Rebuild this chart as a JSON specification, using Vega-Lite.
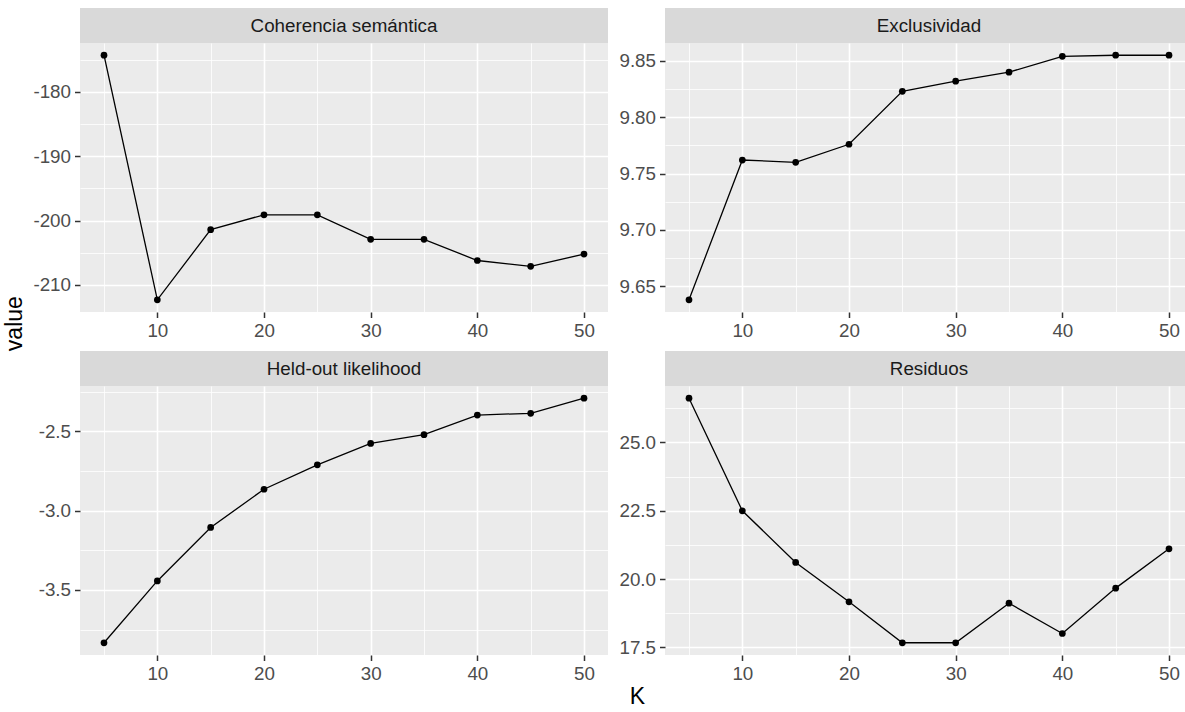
{
  "$schema": "https://vega.github.io/schema/vega-lite/v6.json",
  "background": "white",
  "padding": {"left": 3, "top": 8, "right": 0, "bottom": 2},
  "autosize": {"type": "pad"},
  "config": {
    "font": "Liberation Sans",
    "view": {"fill": "#EBEBEB", "stroke": null},
    "axis": {
      "domain": false,
      "grid": true,
      "gridColor": "#FFFFFF",
      "tickColor": "#333333",
      "tickSize": 5.5,
      "tickWidth": 1.5,
      "labelColor": "#4D4D4D",
      "labelFontSize": 18.8,
      "labelPadding": 4,
      "labelOverlap": false,
      "labelFlush": false,
      "labelBound": false,
      "title": null
    },
    "title": {"font": "Liberation Sans", "fontWeight": "normal", "fontSize": 23, "color": "#000000"}
  },
  "data": {
    "values": [
      {"metric": "Coherencia semántica", "K": 5, "value": -174.3},
      {"metric": "Coherencia semántica", "K": 10, "value": -212.3},
      {"metric": "Coherencia semántica", "K": 15, "value": -201.4},
      {"metric": "Coherencia semántica", "K": 20, "value": -199.1},
      {"metric": "Coherencia semántica", "K": 25, "value": -199.1},
      {"metric": "Coherencia semántica", "K": 30, "value": -202.9},
      {"metric": "Coherencia semántica", "K": 35, "value": -202.9},
      {"metric": "Coherencia semántica", "K": 40, "value": -206.2},
      {"metric": "Coherencia semántica", "K": 45, "value": -207.1},
      {"metric": "Coherencia semántica", "K": 50, "value": -205.2},
      {"metric": "Exclusividad", "K": 5, "value": 9.638},
      {"metric": "Exclusividad", "K": 10, "value": 9.762},
      {"metric": "Exclusividad", "K": 15, "value": 9.760},
      {"metric": "Exclusividad", "K": 20, "value": 9.776},
      {"metric": "Exclusividad", "K": 25, "value": 9.823},
      {"metric": "Exclusividad", "K": 30, "value": 9.832},
      {"metric": "Exclusividad", "K": 35, "value": 9.840},
      {"metric": "Exclusividad", "K": 40, "value": 9.854},
      {"metric": "Exclusividad", "K": 45, "value": 9.855},
      {"metric": "Exclusividad", "K": 50, "value": 9.855},
      {"metric": "Held-out likelihood", "K": 5, "value": -3.833},
      {"metric": "Held-out likelihood", "K": 10, "value": -3.443},
      {"metric": "Held-out likelihood", "K": 15, "value": -3.106},
      {"metric": "Held-out likelihood", "K": 20, "value": -2.865},
      {"metric": "Held-out likelihood", "K": 25, "value": -2.711},
      {"metric": "Held-out likelihood", "K": 30, "value": -2.576},
      {"metric": "Held-out likelihood", "K": 35, "value": -2.521},
      {"metric": "Held-out likelihood", "K": 40, "value": -2.397},
      {"metric": "Held-out likelihood", "K": 45, "value": -2.386},
      {"metric": "Held-out likelihood", "K": 50, "value": -2.291},
      {"metric": "Residuos", "K": 5, "value": 26.62},
      {"metric": "Residuos", "K": 10, "value": 22.50},
      {"metric": "Residuos", "K": 15, "value": 20.61},
      {"metric": "Residuos", "K": 20, "value": 19.17},
      {"metric": "Residuos", "K": 25, "value": 17.67},
      {"metric": "Residuos", "K": 30, "value": 17.67},
      {"metric": "Residuos", "K": 35, "value": 19.12},
      {"metric": "Residuos", "K": 40, "value": 18.01},
      {"metric": "Residuos", "K": 45, "value": 19.67},
      {"metric": "Residuos", "K": 50, "value": 21.11}
    ]
  },
  "title": {"text": "K", "orient": "bottom", "anchor": "middle", "offset": 3, "dx": 39},
  "vconcat": [
    {
      "title": {"text": "value", "orient": "left", "anchor": "middle", "offset": 6, "dx": 22},
      "spacing": 10,
      "vconcat": [
        {
          "columns": 2,
          "spacing": {"column": 57, "row": 0},
          "bounds": "flush",
          "concat": [
            {
              "width": 528, "height": 35,
              "view": {"fill": "#D9D9D9", "stroke": null},
              "transform": [
                {"filter": "datum.metric === 'Coherencia semántica'"},
                {"aggregate": [{"op": "count", "as": "n"}], "groupby": ["metric"]}
              ],
              "mark": {"type": "text", "fontSize": 18.8, "color": "#1A1A1A", "align": "center", "baseline": "middle"},
              "encoding": {"text": {"field": "metric", "type": "nominal"}}
            },
            {
              "width": 528, "height": 35,
              "view": {"fill": "#D9D9D9", "stroke": null},
              "transform": [
                {"filter": "datum.metric === 'Exclusividad'"},
                {"aggregate": [{"op": "count", "as": "n"}], "groupby": ["metric"]}
              ],
              "mark": {"type": "text", "fontSize": 18.8, "color": "#1A1A1A", "align": "center", "baseline": "middle"},
              "encoding": {"text": {"field": "metric", "type": "nominal"}}
            },
            {
              "width": 528, "height": 269,
              "transform": [{"filter": "datum.metric === 'Coherencia semántica'"}],
              "encoding": {
                "x": {"field": "K", "type": "quantitative",
                  "scale": {"domain": [2.75, 52.25], "nice": false, "zero": false},
                  "axis": {"values": [5, 10, 15, 20, 25, 30, 35, 40, 45, 50],
                    "labelExpr": "datum.value % 10 === 0 ? datum.label : ''",
                    "tickOpacity": {"condition": {"test": "datum.value % 10 === 0", "value": 1}, "value": 0},
                    "gridWidth": {"condition": {"test": "datum.value % 10 === 0", "value": 1.6}, "value": 0.8}}},
                "y": {"field": "value", "type": "quantitative",
                  "scale": {"domain": [-214.2, -172.4], "nice": false, "zero": false},
                  "axis": {"values": [-210, -205, -200, -195, -190, -185, -180, -175],
                    "labelExpr": "indexof([-210, -200, -190, -180], datum.value) >= 0 ? '' + datum.value : ''",
                    "tickOpacity": {"condition": {"test": "indexof([-210, -200, -190, -180], datum.value) >= 0", "value": 1}, "value": 0},
                    "gridWidth": {"condition": {"test": "indexof([-210, -200, -190, -180], datum.value) >= 0", "value": 1.6}, "value": 0.8}}}
              },
              "layer": [
                {"mark": {"type": "line", "color": "#000000", "strokeWidth": 1.3}},
                {"mark": {"type": "circle", "color": "#000000", "size": 45, "opacity": 1}}
              ]
            },
            {
              "width": 528, "height": 269,
              "transform": [{"filter": "datum.metric === 'Exclusividad'"}],
              "encoding": {
                "x": {"field": "K", "type": "quantitative",
                  "scale": {"domain": [2.75, 52.25], "nice": false, "zero": false},
                  "axis": {"values": [5, 10, 15, 20, 25, 30, 35, 40, 45, 50],
                    "labelExpr": "datum.value % 10 === 0 ? datum.label : ''",
                    "tickOpacity": {"condition": {"test": "datum.value % 10 === 0", "value": 1}, "value": 0},
                    "gridWidth": {"condition": {"test": "datum.value % 10 === 0", "value": 1.6}, "value": 0.8}}},
                "y": {"field": "value", "type": "quantitative",
                  "scale": {"domain": [9.62715, 9.86585], "nice": false, "zero": false},
                  "axis": {"values": [9.65, 9.675, 9.7, 9.725, 9.75, 9.775, 9.8, 9.825, 9.85],
                    "labelExpr": "indexof([9.65, 9.7, 9.75, 9.8, 9.85], datum.value) >= 0 ? format(datum.value, '.2f') : ''",
                    "tickOpacity": {"condition": {"test": "indexof([9.65, 9.7, 9.75, 9.8, 9.85], datum.value) >= 0", "value": 1}, "value": 0},
                    "gridWidth": {"condition": {"test": "indexof([9.65, 9.7, 9.75, 9.8, 9.85], datum.value) >= 0", "value": 1.6}, "value": 0.8}}}
              },
              "layer": [
                {"mark": {"type": "line", "color": "#000000", "strokeWidth": 1.3}},
                {"mark": {"type": "circle", "color": "#000000", "size": 45, "opacity": 1}}
              ]
            }
          ]
        },
        {
          "columns": 2,
          "spacing": {"column": 57, "row": 0},
          "bounds": "flush",
          "concat": [
            {
              "width": 528, "height": 35,
              "view": {"fill": "#D9D9D9", "stroke": null},
              "transform": [
                {"filter": "datum.metric === 'Held-out likelihood'"},
                {"aggregate": [{"op": "count", "as": "n"}], "groupby": ["metric"]}
              ],
              "mark": {"type": "text", "fontSize": 18.8, "color": "#1A1A1A", "align": "center", "baseline": "middle"},
              "encoding": {"text": {"field": "metric", "type": "nominal"}}
            },
            {
              "width": 528, "height": 35,
              "view": {"fill": "#D9D9D9", "stroke": null},
              "transform": [
                {"filter": "datum.metric === 'Residuos'"},
                {"aggregate": [{"op": "count", "as": "n"}], "groupby": ["metric"]}
              ],
              "mark": {"type": "text", "fontSize": 18.8, "color": "#1A1A1A", "align": "center", "baseline": "middle"},
              "encoding": {"text": {"field": "metric", "type": "nominal"}}
            },
            {
              "width": 528, "height": 269,
              "transform": [{"filter": "datum.metric === 'Held-out likelihood'"}],
              "encoding": {
                "x": {"field": "K", "type": "quantitative",
                  "scale": {"domain": [2.75, 52.25], "nice": false, "zero": false},
                  "axis": {"values": [5, 10, 15, 20, 25, 30, 35, 40, 45, 50],
                    "labelExpr": "datum.value % 10 === 0 ? datum.label : ''",
                    "tickOpacity": {"condition": {"test": "datum.value % 10 === 0", "value": 1}, "value": 0},
                    "gridWidth": {"condition": {"test": "datum.value % 10 === 0", "value": 1.6}, "value": 0.8}}},
                "y": {"field": "value", "type": "quantitative",
                  "scale": {"domain": [-3.9101, -2.2139], "nice": false, "zero": false},
                  "axis": {"values": [-3.75, -3.5, -3.25, -3.0, -2.75, -2.5, -2.25],
                    "labelExpr": "indexof([-3.5, -3.0, -2.5], datum.value) >= 0 ? replace(format(datum.value, '.1f'), '\u2212', '-') : ''",
                    "tickOpacity": {"condition": {"test": "indexof([-3.5, -3.0, -2.5], datum.value) >= 0", "value": 1}, "value": 0},
                    "gridWidth": {"condition": {"test": "indexof([-3.5, -3.0, -2.5], datum.value) >= 0", "value": 1.6}, "value": 0.8}}}
              },
              "layer": [
                {"mark": {"type": "line", "color": "#000000", "strokeWidth": 1.3}},
                {"mark": {"type": "circle", "color": "#000000", "size": 45, "opacity": 1}}
              ]
            },
            {
              "width": 528, "height": 269,
              "transform": [{"filter": "datum.metric === 'Residuos'"}],
              "encoding": {
                "x": {"field": "K", "type": "quantitative",
                  "scale": {"domain": [2.75, 52.25], "nice": false, "zero": false},
                  "axis": {"values": [5, 10, 15, 20, 25, 30, 35, 40, 45, 50],
                    "labelExpr": "datum.value % 10 === 0 ? datum.label : ''",
                    "tickOpacity": {"condition": {"test": "datum.value % 10 === 0", "value": 1}, "value": 0},
                    "gridWidth": {"condition": {"test": "datum.value % 10 === 0", "value": 1.6}, "value": 0.8}}},
                "y": {"field": "value", "type": "quantitative",
                  "scale": {"domain": [17.2225, 27.0675], "nice": false, "zero": false},
                  "axis": {"values": [17.5, 18.75, 20, 21.25, 22.5, 23.75, 25, 26.25],
                    "labelExpr": "indexof([17.5, 20, 22.5, 25], datum.value) >= 0 ? format(datum.value, '.1f') : ''",
                    "tickOpacity": {"condition": {"test": "indexof([17.5, 20, 22.5, 25], datum.value) >= 0", "value": 1}, "value": 0},
                    "gridWidth": {"condition": {"test": "indexof([17.5, 20, 22.5, 25], datum.value) >= 0", "value": 1.6}, "value": 0.8}}}
              },
              "layer": [
                {"mark": {"type": "line", "color": "#000000", "strokeWidth": 1.3}},
                {"mark": {"type": "circle", "color": "#000000", "size": 45, "opacity": 1}}
              ]
            }
          ]
        }
      ]
    }
  ]
}
